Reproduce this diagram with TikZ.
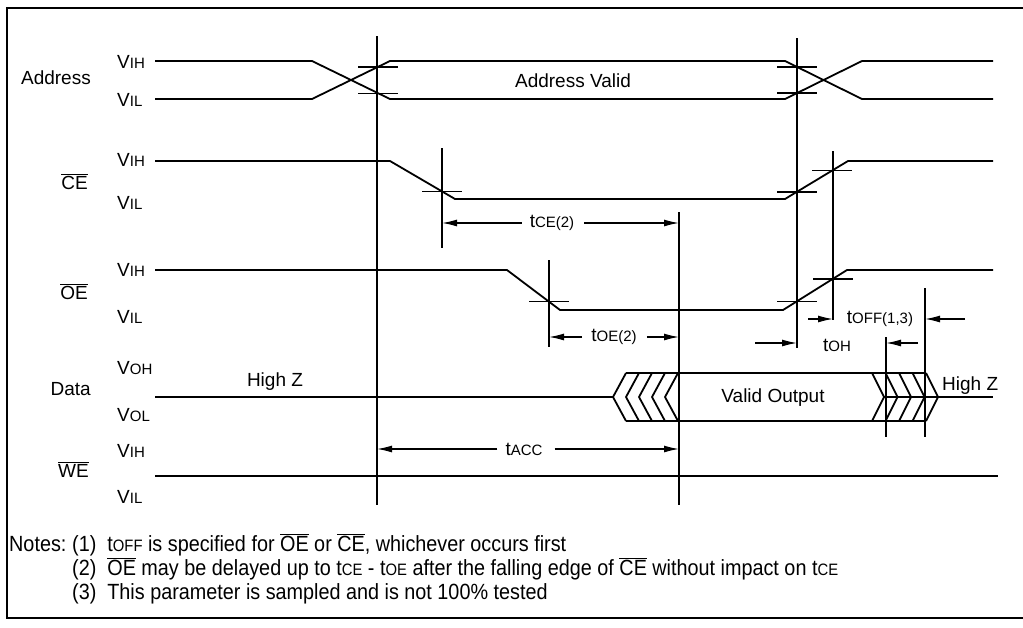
\documentclass[tikz,border=0pt]{standalone}
\usepackage{fontspec}
\setmainfont{Liberation Sans}
\newfontfamily\notesfont[FakeStretch=0.9]{Liberation Sans}
\usetikzlibrary{arrows.meta}
\newcommand\mainsz{\fontsize{19pt}{22pt}\selectfont}
\newcommand\subsz{\fontsize{15pt}{17pt}\selectfont}
\newcommand\notesz{\notesfont\fontsize{22pt}{24pt}\selectfont}
\newcommand\nsubsz{\fontsize{16.5pt}{18pt}\selectfont}
\newcommand\lv[1]{V{\subsz #1}}
\newcommand\tsym[1]{t{\subsz #1}}
\newcommand\ntsym[1]{t{\nsubsz #1}}
\newcommand\barsig[1]{$\overline{\hbox{#1}}$}
\begin{document}
\begin{tikzpicture}[x=1pt,y=-1pt,
  every node/.style={inner sep=0pt, font=\mainsz},
  sig/.style={line width=1.8pt, line join=round},
  vln/.style={line width=1.4pt},
  tck/.style={line width=1.4pt},
  dimar/.style={line width=1.3pt, -{Latex[length=15pt,width=7pt]}},
  lvl/.style={anchor=west},
  signame/.style={anchor=base east},
  notel/.style={anchor=base west, font=\notesz}]
\useasboundingbox (0,0) rectangle (1023,627);
% frame
\coordinate (fTR) at (1030,8);
\coordinate (fTL) at (7,8);
\coordinate (fBL) at (7,618);
\coordinate (fBR) at (1030,618);
\draw[line width=1.4pt] (fTR) -- (fTL) -- (fBL) -- (fBR);

% signal names
\node[signame] (nAddr) at (91,84) {Address};
\node[signame] (nCE) at (88,189) {\barsig{CE}};
\node[signame] (nOE) at (88,299) {\barsig{OE}};
\node[signame] (nData) at (91,395) {Data};
\node[signame] (nWE) at (89,477) {\barsig{WE}};
% level labels
\node[lvl] (aH) at (117,62) {\lv{IH}};
\node[lvl] (aL) at (117,100) {\lv{IL}};
\node[lvl] (cH) at (117,160) {\lv{IH}};
\node[lvl] (cL) at (117,203) {\lv{IL}};
\node[lvl] (oH) at (117,270) {\lv{IH}};
\node[lvl] (oL) at (117,317) {\lv{IL}};
\node[lvl] (dH) at (117,368) {\lv{OH}};
\node[lvl] (dL) at (117,415) {\lv{OL}};
\node[lvl] (wH) at (117,451) {\lv{IH}};
\node[lvl] (wL) at (117,497) {\lv{IL}};

% vertical reference lines
\coordinate (V1t) at (377,36);  \coordinate (V1b) at (377,505);
\coordinate (V2t) at (442,148); \coordinate (V2b) at (442,248);
\coordinate (V3t) at (549,260); \coordinate (V3b) at (549,347);
\coordinate (V4t) at (679,212); \coordinate (V4b) at (679,505);
\coordinate (V5t) at (797,38);  \coordinate (V5b) at (797,348);
\coordinate (V6t) at (833,151); \coordinate (V6b) at (833,320);
\coordinate (V7t) at (886,337); \coordinate (V7b) at (886,437);
\coordinate (V8t) at (925,288); \coordinate (V8b) at (925,437);
\foreach \v in {V1,V2,V3,V4,V5,V6,V7,V8} \draw[vln] (\v t) -- (\v b);

% Address
\draw[sig] (155,61) -- (312,61) -- (390,99) -- (785,99) -- (862,61) -- (993,61);
\draw[sig] (155,99) -- (312,99) -- (390,61) -- (785,61) -- (862,99) -- (993,99);
\draw[tck] (358,66.8) -- (398,66.8);
\draw[tck] (358,93.2) -- (398,93.2);
\draw[tck] (777,66.9) -- (817,66.9);
\draw[tck] (777,93.1) -- (817,93.1);
\node (av) at (573,81) {Address Valid};

% CE
\draw[sig] (155,161) -- (390,161) -- (455,199) -- (785,199) -- (848,161) -- (993,161);
\draw[tck] (422,191.4) -- (462,191.4);
\draw[tck] (777,191.8) -- (817,191.8);
\draw[tck] (812,170.6) -- (852,170.6);

% OE
\draw[sig] (155,270) -- (507,270) -- (560,310) -- (783,310) -- (847,270) -- (993,270);
\draw[tck] (529,301.7) -- (569,301.7);
\draw[tck] (777,301.3) -- (817,301.3);
\draw[tck] (813,278.8) -- (853,278.8);

% Data
\draw[sig] (155,397) -- (613,397);
\foreach \i in {0,...,4}
  \draw[sig] ({626+13*\i},373) -- ({613+13*\i},397) -- ({626+13*\i},421);
\draw[sig] (626,373) -- (926,373);
\draw[sig] (626,421) -- (926,421);
\foreach \j in {0,...,4}
  \draw[sig] ({872+13.5*\j},373) -- ({884+13.5*\j},397) -- ({872+13.5*\j},421);
\draw[sig] (884,397) -- (993,397);
\node (hz1) at (275,382) {High Z};
\node[anchor=west] (hz2) at (942,386) {High Z};
\node (vo) at (773,398) {Valid Output};

% WE
\draw[sig] (155,476) -- (998,476);

% timing dimensions
\node (tce) at (552,223) {\tsym{CE(2)}};
\draw[dimar] ([xshift=-8pt]tce.west) -- (tce -| V2t);
\draw[dimar] ([xshift=10pt]tce.east) -- (tce -| V4t);
\node (toe) at (614,337) {\tsym{OE(2)}};
\draw[dimar] ([xshift=-9pt]toe.west) -- (toe -| V3t);
\draw[dimar] ([xshift=10pt]toe.east) -- (toe -| V4t);
\node (tacc) at (524,449) {\tsym{ACC}};
\draw[dimar] ([xshift=-8pt]tacc.west) -- (tacc -| V1t);
\draw[dimar] ([xshift=12pt]tacc.east) -- (tacc -| V4t);
\node (toh) at (837,345) {\tsym{OH}};
\coordinate (tohL) at (755,343);
\coordinate (tohR) at (918,343);
\draw[dimar] (tohL) -- (tohL -| V5t);
\draw[dimar] (tohR) -- (tohR -| V7t);
\node (toff) at (880,319) {\tsym{OFF(1,3)}};
\coordinate (toffL) at (808,319);
\coordinate (toffR) at (965,319);
\draw[dimar] (toffL) -- (toffL -| V6t);
\draw[dimar] (toffR) -- (toffR -| V8t);

% notes
\node[notel] (notes) at (9,551) {Notes:};
\node[notel] (n1) at (72,551) {(1)\ \ \ntsym{OFF} is specified for \barsig{OE} or \barsig{CE}, whichever occurs first};
\node[notel] (n2) at (72,575) {(2)\ \ \barsig{OE} may be delayed up to \ntsym{CE} - \ntsym{OE} after the falling edge of \barsig{CE} without impact on \ntsym{CE}};
\node[notel] (n3) at (72,599) {(3)\ \ This parameter is sampled and is not 100\% tested};
\end{tikzpicture}
\end{document}
